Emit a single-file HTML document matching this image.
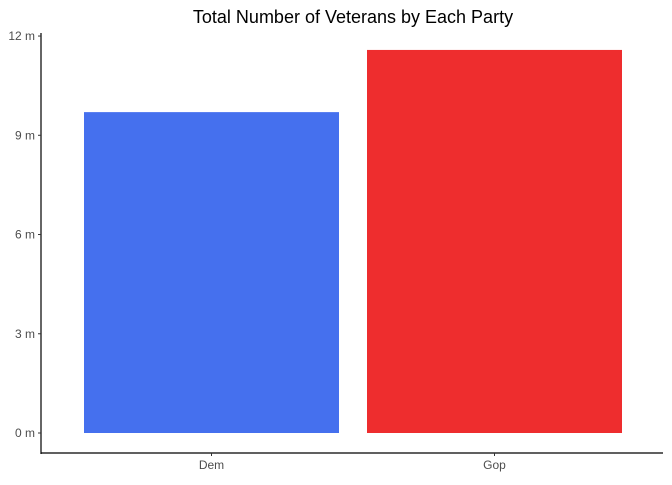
<!DOCTYPE html>
<html><head><meta charset="utf-8"><style>
body{margin:0;background:#fff;}
svg text{font-family:"Liberation Sans",Arial,sans-serif;}
</style></head><body>
<svg width="672" height="480" viewBox="0 0 672 480">
<text x="353" y="23" text-anchor="middle" font-size="18" fill="#000">Total Number of Veterans by Each Party</text>
<g id="bars"></g>
<g id="yaxis"></g>
<g id="xaxis"></g>
</svg>
<script>
const categories=["Dem","Gop"];
const values=[9.7,11.58];
const colors=["#4570EE","#EE2D2E"];
const yTicks=[0,3,6,9,12];
const yTickLabels=["0 m","3 m","6 m","9 m","12 m"];
const NS="http://www.w3.org/2000/svg";
const y0=433,pxPer=33.08;
function y(v){return y0-v*pxPer;}
function xc(i){return 211.5+i*283;}
const bw=255;
const bars=document.getElementById('bars');
categories.forEach((c,i)=>{
 const r=document.createElementNS(NS,'rect');
 r.setAttribute('x',xc(i)-bw/2);r.setAttribute('y',y(values[i]));
 r.setAttribute('width',bw);r.setAttribute('height',y0-y(values[i]));
 r.setAttribute('fill',colors[i]);
 
 
 bars.appendChild(r);
});
const ya=document.getElementById('yaxis');
let l=document.createElementNS(NS,'line');
l.setAttribute('x1',41);l.setAttribute('x2',41);l.setAttribute('y1',33);l.setAttribute('y2',454);
l.setAttribute('stroke','#000');l.setAttribute('stroke-width',1.2);


ya.appendChild(l);
yTicks.forEach((t,i)=>{
 const tk=document.createElementNS(NS,'line');
 tk.setAttribute('x1',38);tk.setAttribute('x2',41);tk.setAttribute('y1',y(t));tk.setAttribute('y2',y(t));
 tk.setAttribute('stroke','#333');
 
 
 ya.appendChild(tk);
 const tx=document.createElementNS(NS,'text');
 tx.setAttribute('x',35);tx.setAttribute('y',y(t)+4);tx.setAttribute('text-anchor','end');
 tx.setAttribute('font-size','12');tx.setAttribute('fill','#4d4d4d');
 tx.textContent=yTickLabels[i];
 
 
 ya.appendChild(tx);
});
const xa=document.getElementById('xaxis');
l=document.createElementNS(NS,'line');
l.setAttribute('x1',41);l.setAttribute('x2',663);l.setAttribute('y1',453);l.setAttribute('y2',453);
l.setAttribute('stroke','#000');l.setAttribute('stroke-width',1.2);


xa.appendChild(l);
categories.forEach((c,i)=>{
 const tk=document.createElementNS(NS,'line');
 tk.setAttribute('x1',xc(i));tk.setAttribute('x2',xc(i));tk.setAttribute('y1',453);tk.setAttribute('y2',456);
 tk.setAttribute('stroke','#333');
 
 
 xa.appendChild(tk);
 const tx=document.createElementNS(NS,'text');
 tx.setAttribute('x',xc(i));tx.setAttribute('y',469);tx.setAttribute('text-anchor','middle');
 tx.setAttribute('font-size','12');tx.setAttribute('fill','#4d4d4d');
 tx.textContent=c;
 
 
 xa.appendChild(tx);
});
</script>
</body></html>
